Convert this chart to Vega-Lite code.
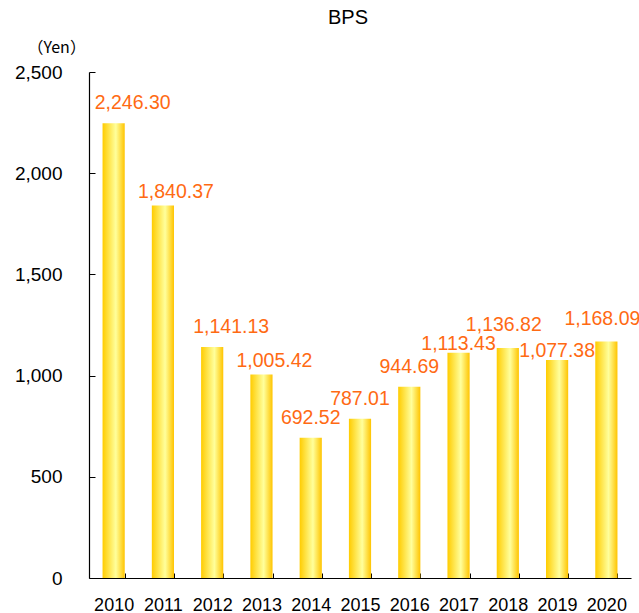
{
  "$schema": "https://vega.github.io/schema/vega-lite/v6.json",
  "width": 542,
  "height": 506,
  "autosize": {"type": "none"},
  "padding": {"left": 89, "top": 72, "right": 8, "bottom": 35},
  "background": "white",
  "title": {"text": "BPS", "anchor": "middle", "frame": "group", "font": "Liberation Sans", "fontSize": 20, "fontWeight": "normal", "color": "black", "offset": 11, "dx": -12},
  "config": {"view": {"stroke": null}},
  "data": {"values": [
    {"year": "2010", "bps": 2246.30},
    {"year": "2011", "bps": 1840.37},
    {"year": "2012", "bps": 1141.13},
    {"year": "2013", "bps": 1005.42},
    {"year": "2014", "bps": 692.52},
    {"year": "2015", "bps": 787.01},
    {"year": "2016", "bps": 944.69},
    {"year": "2017", "bps": 1113.43},
    {"year": "2018", "bps": 1136.82},
    {"year": "2019", "bps": 1077.38},
    {"year": "2020", "bps": 1168.09}
  ]},
  "encoding": {
    "x": {"field": "year", "type": "ordinal", "scale": {"paddingInner": 0.55, "paddingOuter": 0.275},
      "axis": {"title": null, "labelAngle": 0, "labelFont": "Liberation Sans", "labelFontSize": 18, "labelColor": "black", "domainColor": "black", "tickColor": "black", "tickSize": -5, "tickBand": "extent", "labelPadding": 23, "domainWidth": 1.2}},
    "y": {"field": "bps", "type": "quantitative", "scale": {"domain": [0, 2500], "nice": false},
      "axis": {"title": "（Yen）", "titleAngle": 0, "titleX": -62, "titleY": -25, "titleAlign": "left", "titleBaseline": "middle", "titleFont": "Noto Sans CJK JP", "titleFontSize": 16, "titleFontWeight": "normal", "titleColor": "black",
        "values": [0, 500, 1000, 1500, 2000, 2500], "format": ",.0f", "grid": false, "labelFont": "Liberation Sans", "labelFontSize": 19, "labelColor": "black", "domainColor": "black", "tickColor": "black", "tickSize": -6, "labelPadding": 33, "domainWidth": 1.2}},
    "text": {"field": "bps", "type": "quantitative", "format": ",.2f"}
  },
  "layer": [
    {"mark": {"type": "bar", "color": {"gradient": "linear", "x1": 0, "x2": 1, "y1": 0, "y2": 0, "stops": [
      {"offset": 0, "color": "#FFCC00"},
      {"offset": 0.6, "color": "#FFFF9C"},
      {"offset": 1, "color": "#FFC400"}]}},
      "encoding": {"text": null}},
    {"transform": [{"filter": {"field": "year", "oneOf": ["2010", "2012"]}}],
      "mark": {"type": "text", "baseline": "middle", "dx": 19, "dy": -20, "font": "Liberation Sans", "fontSize": 19.5, "color": "#FF6A13"}},
    {"transform": [{"filter": {"field": "year", "oneOf": ["2011", "2013"]}}],
      "mark": {"type": "text", "baseline": "middle", "dx": 13, "dy": -14, "font": "Liberation Sans", "fontSize": 19.5, "color": "#FF6A13"}},
    {"transform": [{"filter": {"field": "year", "oneOf": ["2014", "2015", "2016"]}}],
      "mark": {"type": "text", "baseline": "middle", "dx": 0, "dy": -20, "font": "Liberation Sans", "fontSize": 19.5, "color": "#FF6A13"}},
    {"transform": [{"filter": {"field": "year", "oneOf": ["2017", "2019"]}}],
      "mark": {"type": "text", "baseline": "middle", "dx": 0, "dy": -9, "font": "Liberation Sans", "fontSize": 19.5, "color": "#FF6A13"}},
    {"transform": [{"filter": {"field": "year", "oneOf": ["2018", "2020"]}}],
      "mark": {"type": "text", "baseline": "middle", "dx": -4, "dy": -23, "font": "Liberation Sans", "fontSize": 19.5, "color": "#FF6A13"}}
  ]
}
